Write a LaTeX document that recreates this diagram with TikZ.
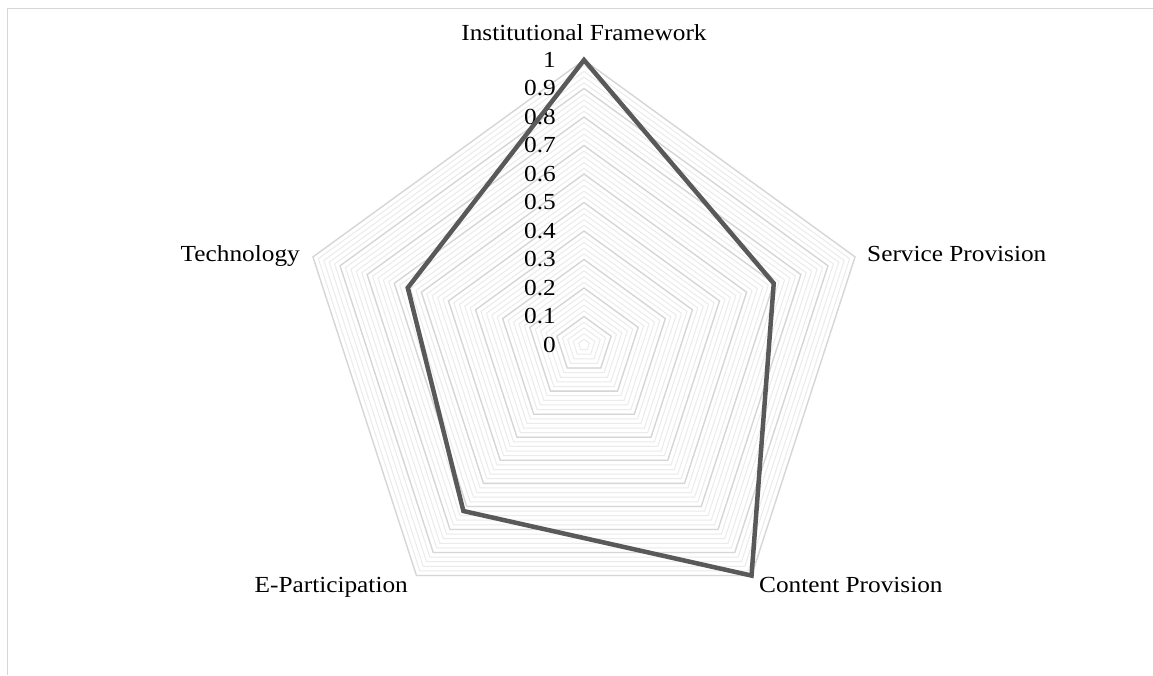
\documentclass[tikz,border=0pt]{standalone}
\usepackage{fontspec}
\setmainfont[FakeStretch=1.1]{Liberation Serif}
\definecolor{gridminor}{HTML}{EBEBEB}
\definecolor{gridmajor}{HTML}{D6D6D6}
\definecolor{seriesgray}{HTML}{595959}
\begin{document}
\begin{tikzpicture}[x=1pt,y=-1pt,
  minorgrid/.style={draw=gridminor,line width=1pt},
  majorgrid/.style={draw=gridmajor,line width=1.3pt},
  frameline/.style={draw=gridmajor,line width=1.5pt},
  series/.style={draw=seriesgray,line width=4.5pt,line join=miter},
  axislabel/.style={font=\fontsize{23}{27}\selectfont,inner sep=0pt,text=black},
  ticklabel/.style={font=\fontsize{23}{27}\selectfont,inner sep=0pt,anchor=east,text=black}]
\useasboundingbox (0,0) rectangle (1153,675);
\fill[white] (0,0) rectangle (1153,675);
\coordinate (fa) at (7.5,675);
\coordinate (fb) at (7.5,8.5);
\coordinate (fc) at (1153,8.5);
\draw[frameline] (fa) -- (fb) -- (fc);
\begin{scope}[shift={(584,345)}]
  \foreach \i in {1,...,50}{
    \pgfmathsetmacro\r{\i*5.7}
    \draw[minorgrid] (-90:\r) -- (-18:\r) -- (54:\r) -- (126:\r) -- (198:\r) -- cycle;
  }
  \foreach \i in {1,...,10}{
    \pgfmathsetmacro\r{\i*28.5}
    \draw[majorgrid] (-90:\r) -- (-18:\r) -- (54:\r) -- (126:\r) -- (198:\r) -- cycle;
  }
  \foreach \v/\t in {0/0,1/0.1,2/0.2,3/0.3,4/0.4,5/0.5,6/0.6,7/0.7,8/0.8,9/0.9,10/1}{
    \node[ticklabel] (tick\v) at (-28,{-\v*28.5}) {\t};
  }
  \coordinate (d1) at (-90:285);
  \coordinate (d2) at (-18:199.5);
  \coordinate (d3) at (54:285);
  \coordinate (d4) at (126:205.2);
  \coordinate (d5) at (198:185.25);
  \draw[series] (d1) -- (d2) -- (d3) -- (d4) -- (d5) -- cycle;
\end{scope}
\node[axislabel,anchor=base] (lif) at (584,40) {Institutional Framework};
\node[axislabel,anchor=base west] (lsp) at (867,261) {Service Provision};
\node[axislabel,anchor=base east] (lte) at (300,261) {Technology};
\node[axislabel,anchor=base west] (lcp) at (759,592) {Content Provision};
\node[axislabel,anchor=base east] (lep) at (408,592) {E-Participation};
\end{tikzpicture}
\end{document}
